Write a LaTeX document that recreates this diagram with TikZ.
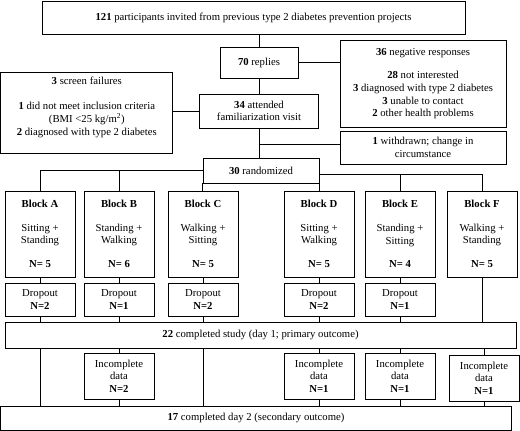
\documentclass[tikz,border=0pt]{standalone}
\usepackage{fontspec}
\setmainfont{Liberation Serif}
\begin{document}
\begin{tikzpicture}[
    x=1pt, y=-1pt,
    box/.style={draw, rectangle, line width=0.8pt, inner sep=1pt, align=center, font=\fontsize{10.7}{12.6}\selectfont},
    block/.style={box, minimum width=70pt, minimum height=86pt},
    dropbox/.style={box, minimum width=70pt, minimum height=33pt},
    incbox/.style={box, minimum width=70pt, minimum height=46pt},
    line/.style={line width=0.8pt}
]
\useasboundingbox (0,0) rectangle (520,431);

% Recruitment
\node[box, minimum width=423pt, minimum height=33pt] (invited) at (253.5, 17.5) {\textbf{121} participants invited from previous type 2 diabetes prevention projects};
\node[box, minimum width=78pt, minimum height=31pt] (replies) at (259, 62.5) {\textbf{70} replies};
\node[box, minimum width=166pt, minimum height=87pt] (negative) at (423, 83.5) {\textbf{36} negative responses\\[11pt]\textbf{28} not interested\\\textbf{3} diagnosed with type 2 diabetes\\\textbf{3} unable to contact\\\textbf{2} other health problems};

% Screening
\node[box, minimum width=172pt, minimum height=81pt] (screen) at (86.8, 112.5) {\textbf{3} screen failures\\[12.5pt]\textbf{1} did not meet inclusion criteria\\(BMI <25 kg/m\textsuperscript{2})\\\textbf{2} diagnosed with type 2 diabetes\\ \mbox{}};
\node[box, minimum width=119pt, minimum height=34pt] (attended) at (259, 111) {\textbf{34} attended\\familiarization visit};
\node[box, minimum width=166pt, minimum height=33pt] (withdrawn) at (423, 147.5) {\textbf{1} withdrawn; change in\\circumstance};
\node[box, minimum width=116pt, minimum height=25pt] (rand) at (261, 170.5) {\textbf{30} randomized};

% Blocks
\node[block] (blockA) at (40, 234) {\textbf{Block A}\\[11pt]Sitting +\\Standing\\[11pt]\textbf{N= 5}};
\node[block] (blockB) at (119, 234) {\textbf{Block B}\\[11pt]Standing +\\Walking\\[11pt]\textbf{N= 6}};
\node[block] (blockC) at (203, 234) {\textbf{Block C}\\[11pt]Walking +\\Sitting\\[11pt]\textbf{N= 5}};
\node[block] (blockD) at (319, 234) {\textbf{Block D}\\[11pt]Sitting +\\Walking\\[11pt]\textbf{N= 5}};
\node[block] (blockE) at (400, 234) {\textbf{Block E}\\[11pt]Standing +\\Sitting\\[11pt]\textbf{N= 4}};
\node[block] (blockF) at (482, 234) {\textbf{Block F}\\[11pt]Walking +\\Standing\\[11pt]\textbf{N= 5}};

% Dropouts
\node[dropbox] (dropA) at (40, 299.5) {Dropout\\\textbf{N=2}};
\node[dropbox] (dropB) at (119, 299.5) {Dropout\\\textbf{N=1}};
\node[dropbox] (dropC) at (203, 299.5) {Dropout\\\textbf{N=2}};
\node[dropbox] (dropD) at (319, 299.5) {Dropout\\\textbf{N=2}};
\node[dropbox] (dropE) at (400, 299.5) {Dropout\\\textbf{N=1}};

% Day 1
\node[box, minimum width=511pt, minimum height=26pt] (day1) at (260.5, 335) {\textbf{22} completed study (day 1; primary outcome)};

% Incomplete data
\node[incbox] (incB) at (119, 376) {Incomplete\\data\\\textbf{N=2}};
\node[incbox] (incD) at (319, 376) {Incomplete\\data\\\textbf{N=1}};
\node[incbox] (incE) at (400, 376) {Incomplete\\data\\\textbf{N=1}};
\node[incbox] (incF) at (484, 378) {Incomplete\\data\\\textbf{N=1}};

% Day 2
\node[box, minimum width=511pt, minimum height=24pt] (day2) at (256, 418) {\textbf{17} completed day 2 (secondary outcome)};

% Connectors
\coordinate (withdrawnL) at ([yshift=3pt]withdrawn.west);
\coordinate (randR) at ([yshift=-4pt]rand.east);

\draw[line] (invited.south -| replies.north) -- (replies.north);
\draw[line] (replies.east) -- (replies.east -| negative.west);
\draw[line] (replies.south) -- (attended.north);
\draw[line] (attended.west) -- (attended.west -| screen.east);
\draw[line] (attended.south) -- (attended.south |- rand.north);
\draw[line] (withdrawnL) -- (withdrawnL -| attended.south);

\draw[line] (rand.west) -| (blockA.north);
\draw[line] (blockB.north) -- (blockB.north |- rand.west);
\draw[line] (rand.south west) -- (rand.south west |- blockC.north);
\draw[line] (randR) -| (blockF.north);
\draw[line] (blockE.north) -- (blockE.north |- randR);
\draw[line] (rand.south east) -- (rand.south east |- blockD.north);

\foreach \b in {A,B,C,D,E} {
  \draw[line] (block\b.south) -- (drop\b.north);
  \draw[line] (drop\b.south) -- (drop\b.south |- day1.north);
}
\draw[line] (blockF.south) -- (blockF.south |- day1.north);

\foreach \b in {A,C}
  \draw[line] (drop\b.south |- day1.south) -- (drop\b.south |- day2.north);
\foreach \b in {B,D,E,F} {
  \draw[line] (inc\b.north |- day1.south) -- (inc\b.north);
  \draw[line] (inc\b.south) -- (inc\b.south |- day2.north);
}

\end{tikzpicture}
\end{document}
